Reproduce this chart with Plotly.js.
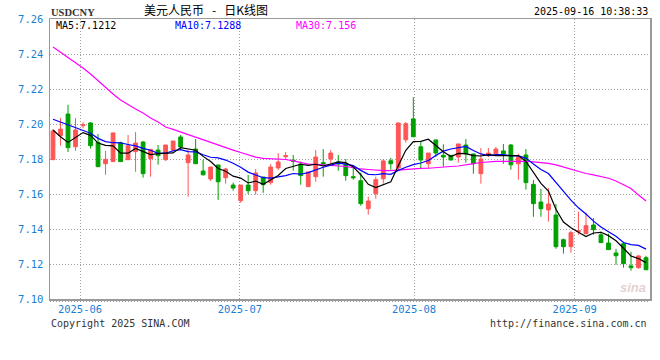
<!DOCTYPE html>
<html><head><meta charset="utf-8">
<script src="https://cdn.plot.ly/plotly-3.0.1.min.js"></script>
<style>html,body{margin:0;padding:0;background:#fff;} #chart{width:660px;height:360px;}</style>
</head><body><div id="chart"></div>
<script>
const opens = [7.1796,7.1933,7.2057,7.1870,7.1990,7.2006,7.1895,7.1773,7.1785,7.1893,
 7.1796,7.1842,7.1897,7.1802,7.1851,7.1796,7.1851,7.1926,7.1779,7.1857,
 7.1731,7.1686,7.1766,7.1693,7.1651,7.1562,7.1651,7.1619,7.1697,7.1665,
 7.1749,7.1813,7.1794,7.1771,7.1642,7.1699,7.1779,7.1800,7.1783,7.1771,
 7.1699,7.1676,7.1516,7.1602,7.1687,7.1790,7.1749,7.1910,7.2029,7.1870,
 7.1773,7.1909,7.1821,7.1821,7.1811,7.1880,7.1829,7.1716,7.1819,7.1830,
 7.1846,7.1880,7.1773,7.1823,7.1655,7.1554,7.1509,7.1480,7.1339,7.1299,
 7.1385,7.1373,7.1423,7.1367,7.1320,7.1263,7.1316,7.1189,7.1179,7.1236];
const highs = [7.1970,7.2034,7.2110,7.2034,7.2010,7.2011,7.1943,7.1846,7.1949,7.1899,
 7.1937,7.1954,7.1903,7.1855,7.1880,7.1880,7.1903,7.1937,7.1851,7.1914,
 7.1796,7.1754,7.1766,7.1750,7.1665,7.1651,7.1709,7.1743,7.1697,7.1771,
 7.1834,7.1840,7.1823,7.1785,7.1726,7.1851,7.1857,7.1851,7.1823,7.1800,
 7.1756,7.1722,7.1585,7.1699,7.1800,7.1806,7.2006,7.2011,7.2153,7.1903,
 7.1834,7.1909,7.1884,7.1823,7.1886,7.1914,7.1829,7.1863,7.1863,7.1869,
 7.1886,7.1886,7.1830,7.1857,7.1680,7.1629,7.1634,7.1543,7.1345,7.1390,
 7.1499,7.1493,7.1463,7.1385,7.1373,7.1287,7.1327,7.1270,7.1251,7.1247];
const lows = [7.1796,7.1876,7.1840,7.1846,7.1975,7.1859,7.1756,7.1710,7.1785,7.1785,
 7.1796,7.1727,7.1693,7.1699,7.1767,7.1789,7.1840,7.1851,7.1585,7.1773,
 7.1705,7.1674,7.1566,7.1659,7.1619,7.1550,7.1600,7.1596,7.1607,7.1653,
 7.1737,7.1794,7.1733,7.1653,7.1642,7.1670,7.1699,7.1773,7.1733,7.1676,
 7.1682,7.1533,7.1482,7.1573,7.1659,7.1739,7.1737,7.1893,7.1927,7.1745,
 7.1745,7.1811,7.1756,7.1794,7.1779,7.1779,7.1716,7.1659,7.1813,7.1830,
 7.1773,7.1739,7.1682,7.1625,7.1470,7.1470,7.1442,7.1287,7.1259,7.1265,
 7.1367,7.1373,7.1367,7.1322,7.1282,7.1196,7.1179,7.1162,7.1173,7.1167];
const closes = [7.1960,7.1971,7.1865,7.1966,7.1996,7.1876,7.1756,7.1798,7.1949,7.1785,
 7.1876,7.1891,7.1716,7.1855,7.1819,7.1880,7.1903,7.1869,7.1823,7.1773,
 7.1710,7.1754,7.1670,7.1743,7.1634,7.1651,7.1619,7.1720,7.1653,7.1754,
 7.1783,7.1819,7.1787,7.1705,7.1726,7.1811,7.1771,7.1834,7.1771,7.1705,
 7.1693,7.1545,7.1560,7.1682,7.1789,7.1773,7.2006,7.2002,7.1927,7.1794,
 7.1834,7.1834,7.1811,7.1794,7.1886,7.1829,7.1773,7.1800,7.1834,7.1857,
 7.1830,7.1767,7.1811,7.1665,7.1545,7.1516,7.1543,7.1299,7.1299,7.1379,
 7.1390,7.1419,7.1396,7.1322,7.1282,7.1247,7.1202,7.1179,7.1246,7.1167];
const ma5 = [7.1966,7.1927,7.1895,7.1922,7.1951,7.1935,7.1891,7.1878,7.1875,7.1833,
 7.1833,7.1860,7.1843,7.1825,7.1831,7.1833,7.1835,7.1865,7.1859,7.1850,
 7.1815,7.1786,7.1746,7.1730,7.1702,7.1691,7.1663,7.1674,7.1655,7.1679,
 7.1706,7.1746,7.1759,7.1770,7.1764,7.1770,7.1760,7.1770,7.1783,7.1779,
 7.1755,7.1710,7.1655,7.1637,7.1654,7.1670,7.1762,7.1850,7.1899,7.1901,
 7.1913,7.1878,7.1841,7.1814,7.1832,7.1831,7.1819,7.1817,7.1825,7.1819,
 7.1819,7.1818,7.1820,7.1786,7.1723,7.1661,7.1616,7.1513,7.1440,7.1407,
 7.1382,7.1357,7.1377,7.1381,7.1362,7.1333,7.1290,7.1246,7.1231,7.1208];
const ma10 = [7.2027,7.2011,7.1998,7.1981,7.1962,7.1947,7.1918,7.1899,7.1893,7.1892,
 7.1883,7.1875,7.1861,7.1850,7.1832,7.1833,7.1847,7.1854,7.1842,7.1841,
 7.1824,7.1810,7.1806,7.1794,7.1776,7.1753,7.1725,7.1710,7.1693,7.1691,
 7.1698,7.1705,7.1717,7.1713,7.1722,7.1738,7.1753,7.1765,7.1776,7.1771,
 7.1762,7.1735,7.1712,7.1710,7.1716,7.1712,7.1735,7.1753,7.1768,7.1777,
 7.1791,7.1820,7.1845,7.1857,7.1866,7.1872,7.1849,7.1829,7.1819,7.1825,
 7.1825,7.1818,7.1818,7.1805,7.1771,7.1740,7.1717,7.1667,7.1613,7.1565,
 7.1521,7.1486,7.1445,7.1411,7.1384,7.1358,7.1323,7.1311,7.1306,7.1285];
const ma30 = [7.2440,7.2411,7.2383,7.2354,7.2320,7.2286,7.2246,7.2206,7.2171,7.2137,
 7.2109,7.2086,7.2063,7.2034,7.2011,7.1983,7.1969,7.1954,7.1937,7.1923,
 7.1909,7.1894,7.1880,7.1866,7.1851,7.1837,7.1823,7.1811,7.1804,7.1803,
 7.1800,7.1797,7.1789,7.1780,7.1771,7.1769,7.1766,7.1766,7.1760,7.1757,
 7.1751,7.1743,7.1740,7.1735,7.1734,7.1734,7.1737,7.1743,7.1743,7.1746,
 7.1747,7.1749,7.1754,7.1757,7.1760,7.1769,7.1774,7.1780,7.1785,7.1786,
 7.1786,7.1787,7.1787,7.1787,7.1783,7.1779,7.1775,7.1766,7.1754,7.1740,
 7.1729,7.1717,7.1709,7.1700,7.1690,7.1674,7.1654,7.1631,7.1594,7.1560];
const monthLabels = ['2025-06','2025-07','2025-08','2025-09'];
const monthTickX = [3.6, 24.9, 48.1, 69.5];
const yTicks = [7.10,7.12,7.14,7.16,7.18,7.20,7.22,7.24,7.26];
const maLabels = ['MA5:7.1212','MA10:7.1288','MA30:7.156'];

const xs = closes.map((_, i) => i);
const mono = 'DejaVu Sans Mono, monospace';
const blueTick = '#1a7fd4';

const traces = [
  {type:'candlestick', x:xs, open:opens, high:highs, low:lows, close:closes,
   increasing:{line:{color:'#ff5555', width:1}, fillcolor:'#ff5555'},
   decreasing:{line:{color:'#00a000', width:1}, fillcolor:'#00a000'},
   whiskerwidth:0, hoverinfo:'skip'},
  {type:'scatter', mode:'lines', x:xs, y:ma30, line:{color:'#ff00ff', width:1.2}, hoverinfo:'skip'},
  {type:'scatter', mode:'lines', x:xs, y:ma10, line:{color:'#0000ff', width:1.2}, hoverinfo:'skip'},
  {type:'scatter', mode:'lines', x:xs, y:ma5, line:{color:'#000000', width:1.2}, hoverinfo:'skip'}
];

function px2x(px){ return (px-50)/600; }
function py2y(py){ return (299-py)/280; }

const ann = (text, px, py, xanchor, font) => ({
  text, xref:'paper', yref:'paper', x:px2x(px), y:py2y(py), xanchor, yanchor:'middle',
  showarrow:false, font, borderpad:0
});

const layout = {
  width:660, height:360,
  margin:{l:50, r:10, t:19, b:61},
  paper_bgcolor:'#fff', plot_bgcolor:'#fff',
  showlegend:false,
  boxgap:0.28,
  xaxis:{range:[-0.4, 79.53], tickvals:monthTickX, ticktext:monthLabels,
    showgrid:true, gridcolor:'#a0a0a0', griddash:'1px,2px', gridwidth:1,
    showline:true, mirror:true, linecolor:'#999', linewidth:1.5,
    zeroline:false, ticks:'', tickfont:{family:mono, size:10.5, color:blueTick},
    rangeslider:{visible:false}, fixedrange:true},
  yaxis:{range:[7.10, 7.26], tickvals:yTicks, tickformat:'.2f',
    showgrid:true, gridcolor:'#a0a0a0', griddash:'1px,2px', gridwidth:1,
    showline:true, mirror:true, linecolor:'#999', linewidth:1.5,
    zeroline:false, ticks:'', ticklabelstandoff:3,
    tickfont:{family:mono, size:10.5, color:blueTick}, fixedrange:true},
  shapes:[
    {type:'line', xref:'paper', yref:'paper', x0:0, x1:1, y0:py2y(301.5), y1:py2y(301.5),
     line:{color:'#999', width:1, dash:'1px,2px'}}
  ],
  annotations:[
    ann('<b>USDCNY</b>', 50, 12, 'left', {family:'Liberation Serif, serif', size:10.5, color:'#333'}),
    ann('美元人民币\u00a0\u00a0\u00a0-\u00a0\u00a0\u00a0日K线图', 206.5, 9.5, 'center', {family:'Noto Sans CJK SC', size:12, color:'#000'}),
    ann('2025-09-16 10:38:33', 649, 11, 'right', {family:mono, size:10, color:'#000'}),
    ann(maLabels[0], 55, 25, 'left', {family:mono, size:10, color:'#000'}),
    ann(maLabels[1], 174, 25, 'left', {family:mono, size:10, color:'#0000ff'}),
    ann(maLabels[2], 295, 25, 'left', {family:mono, size:10, color:'#ff00ff'}),
    ann('Copyright 2025 SINA.COM', 50, 323.5, 'left', {family:mono, size:10, color:'#333'}),
    ann('http://finance.sina.com.cn', 648, 323.5, 'right', {family:mono, size:10, color:'#333'}),
    ann('<b><i>sina</i></b>', 647, 287, 'right', {family:'Liberation Sans, sans-serif', size:13, color:'rgba(205,170,170,0.55)'})
  ]
};

Plotly.newPlot('chart', traces, layout, {displayModeBar:false, staticPlot:true});
</script>
</body></html>
